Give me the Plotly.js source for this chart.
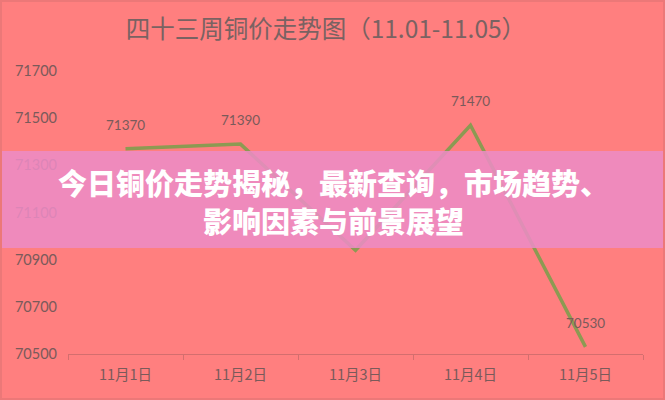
<!DOCTYPE html>
<html>
<head>
<meta charset="utf-8">
<script src="https://cdn.plot.ly/plotly-3.0.1.min.js"></script>
<style>
html,body{margin:0;padding:0;background:#ff7f7f;}
#chart{width:665px;height:400px;box-sizing:border-box;border:2px solid #ec7878;}
</style>
</head>
<body>
<div id="chart"></div>
<script>
const chartTitle = "四十三周铜价走势图（11.01-11.05）";
const categories = ["11月1日", "11月2日", "11月3日", "11月4日", "11月5日"];
const prices = [71370, 71390, 70940, 71470, 70530];
const yTicks = [70500, 70700, 70900, 71100, 71300, 71500, 71700];
const bannerLines = ["今日铜价走势揭秘，最新查询，市场趋势、", "影响因素与前景展望"];

const gray = "#7a5a5a";
const trace = {
  x: categories,
  y: prices,
  type: "scatter",
  mode: "lines",
  line: {color: "#8c9a52", width: 3.5},
  hoverinfo: "skip"
};

// the label of the 3rd point sits under the banner in the reference and is not visible
const labelAnns = categories
  .map((c, i) => ({
    x: c, y: prices[i], xref: "x", yref: "y",
    text: String(prices[i]), showarrow: false, yshift: 24,
    font: {family: "Lato, 'Open Sans', sans-serif", size: 13.5, color: gray}
  }))
  .filter((a, i) => i !== 2);

const bannerAnn = {
  x: 0.462, y: 0.54, xref: "paper", yref: "paper",
  text: bannerLines.join("<br>"), showarrow: false, xanchor: "center", yanchor: "middle",
  align: "center",
  font: {family: "'Noto Sans CJK SC', sans-serif", size: 29, color: "#ffffff", weight: 900}
};

const layout = {
  width: 661, height: 396,
  margin: {l: 66, r: 20, t: 69, b: 44, pad: 0},
  paper_bgcolor: "#ff7f7f",
  plot_bgcolor: "#ff7f7f",
  showlegend: false,
  title: {
    text: chartTitle, x: 0.49, xanchor: "center", y: 0.93, yanchor: "middle",
    font: {family: "'Noto Sans CJK SC', sans-serif", size: 24.5, color: "#7a6262"}
  },
  xaxis: {
    type: "category",
    showgrid: false, zeroline: false,
    showline: true, linecolor: "#d46e6e", linewidth: 1,
    ticks: "outside", tickson: "boundaries", ticklen: 5, tickcolor: "#d46e6e",
    ticklabelstandoff: 8,
    tickfont: {family: "'Noto Sans CJK SC', sans-serif", size: 14.5, color: gray},
    range: [-0.5, 4.5], fixedrange: true
  },
  yaxis: {
    range: [70500, 71700],
    tickvals: yTicks, ticktext: yTicks.map(String),
    showgrid: false, zeroline: false, showline: false,
    ticks: "", ticklabelstandoff: 10,
    tickfont: {family: "Lato, 'Open Sans', sans-serif", size: 14.5, color: gray},
    fixedrange: true
  },
  shapes: [{
    type: "rect", xref: "paper", yref: "paper",
    x0: -0.2, x1: 1.2, y0: 0.3746, y1: 0.717,
    fillcolor: "rgba(236,140,198,0.86)", line: {width: 0}, layer: "above"
  }],
  annotations: labelAnns.concat([bannerAnn])
};

Plotly.newPlot("chart", [trace], layout, {displayModeBar: false, staticPlot: true});
</script>
</body>
</html>
